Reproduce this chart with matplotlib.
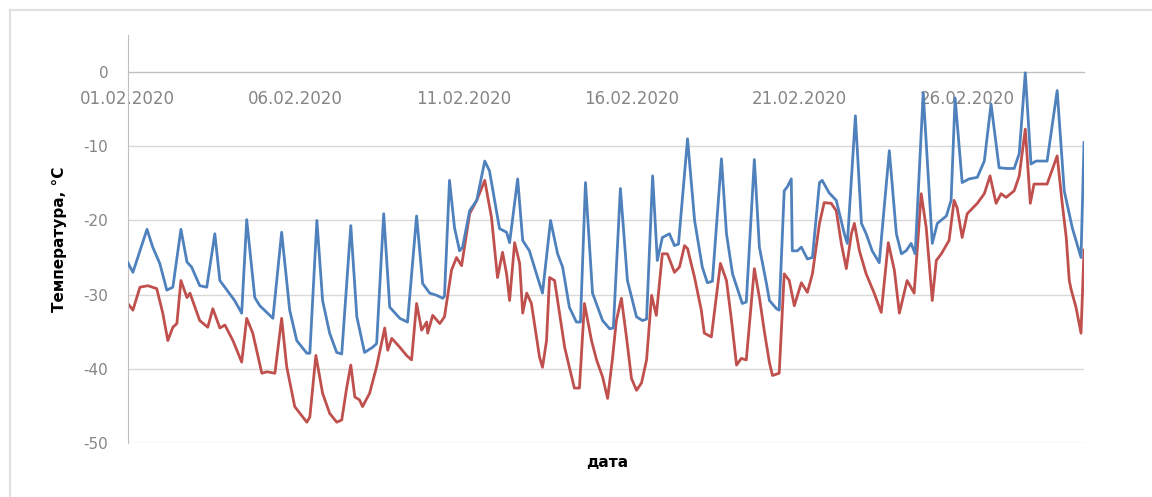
import matplotlib
matplotlib.use("Agg")
import matplotlib.pyplot as plt
import matplotlib.dates as mdates
import pandas as pd

# days since 01.02.2020 00:00 and temperature, degC
blue_days = [0, 0.15, 0.36, 0.57, 0.74, 0.95, 1.16, 1.34, 1.58, 1.76, 1.90, 2.14, 2.35,
             2.59, 2.74, 2.95, 3.18, 3.39, 3.54, 3.78, 3.93, 4.32, 4.58, 4.82, 5.03, 5.33,
             5.42, 5.63, 5.80, 6.01, 6.22, 6.37, 6.64, 6.82, 7.05, 7.29, 7.41, 7.62, 7.80,
             8.10, 8.33, 8.60, 8.78, 8.99, 9.20, 9.38, 9.43, 9.58, 9.73, 9.88, 9.97, 10.18,
             10.39, 10.63, 10.77, 11.07, 11.28, 11.37, 11.61, 11.76, 11.96, 12.17, 12.35,
             12.59, 12.80, 12.95, 13.15, 13.36, 13.48, 13.63, 13.84, 14.14, 14.35, 14.46,
             14.67, 14.88, 15.15, 15.33, 15.45, 15.63, 15.77, 15.92, 16.13, 16.28, 16.40,
             16.67, 16.88, 17.11, 17.26, 17.41, 17.68, 17.83, 18.01, 18.30, 18.42, 18.66,
             18.81, 19.02, 19.11, 19.32, 19.40, 19.55, 19.64, 19.76, 19.79, 19.94, 20.06,
             20.24, 20.39, 20.60, 20.68, 20.89, 21.10, 21.34, 21.43, 21.67, 21.85, 21.99,
             22.17, 22.38, 22.68, 22.89, 23.04, 23.18, 23.33, 23.45, 23.69, 23.96, 24.11,
             24.38, 24.52, 24.64, 24.85, 25.06, 25.30, 25.51, 25.71, 25.95, 26.19, 26.40,
             26.55, 26.73, 26.90, 27.05, 27.38, 27.68, 27.89, 28.13, 28.39, 28.48]
blue_temp = [-25.7, -27.0, -24.1, -21.2, -23.6, -25.8, -29.4, -29.0, -21.2, -25.6, -26.3, -28.8, -29.0,
             -21.8, -28.1, -29.4, -30.8, -32.5, -19.9, -30.4, -31.5, -33.2, -21.6, -32.1, -36.2, -37.9,
             -37.9, -20.0, -30.8, -35.2, -37.8, -38.0, -20.7, -33.0, -37.8, -37.1, -36.6, -19.1, -31.7,
             -33.2, -33.7, -19.4, -28.5, -29.8, -30.1, -30.5, -30.2, -14.6, -21.0, -24.1, -23.6, -18.7,
             -17.3, -12.0, -13.3, -21.1, -21.6, -23.0, -14.4, -22.7, -24.1, -27.2, -29.8,
             -20.0, -24.5, -26.3, -31.7, -33.7, -33.7, -14.9, -29.8, -33.5, -34.6, -34.5,
             -15.7, -28.1, -33.0, -33.5, -33.3, -14.0, -25.4, -22.3, -21.8, -23.4, -23.2,
             -9.0, -20.0, -26.3, -28.4, -28.2, -11.7, -21.8, -27.2, -31.2, -31.0, -11.8,
             -23.6, -28.5, -30.8, -31.9, -32.1, -16.0, -15.5, -14.4, -24.1, -24.1, -23.6,
             -25.2, -25.0, -14.9, -14.6, -16.3, -17.3, -21.8, -23.1, -5.9, -20.4, -21.8,
             -24.1, -25.7, -10.6, -21.8, -24.5, -24.1, -23.1, -24.5, -2.8, -23.1, -20.4,
             -19.4, -17.3, -3.5, -14.9, -14.4, -14.2, -12.0, -4.3, -12.9, -13.0, -13.0,
             -11.0, -0.1, -12.4, -12.0, -12.0, -2.5, -16.0, -21.0, -25.0, -9.5]

red_days = [0, 0.15, 0.36, 0.60, 0.86, 1.04, 1.19, 1.34, 1.46, 1.58, 1.76, 1.85, 2.14, 2.38,
            2.53, 2.74, 2.89, 3.13, 3.39, 3.54, 3.72, 3.99, 4.14, 4.38, 4.58, 4.73, 4.97,
            5.33, 5.42, 5.60, 5.80, 6.01, 6.22, 6.37, 6.52, 6.64, 6.76, 6.90, 6.99, 7.20,
            7.41, 7.65, 7.74, 7.86, 8.10, 8.30, 8.45, 8.60, 8.75, 8.90, 8.93, 9.08, 9.29,
            9.43, 9.64, 9.79, 9.94, 10.18, 10.39, 10.63, 10.83, 11.01, 11.16, 11.28, 11.37,
            11.52, 11.67, 11.76, 11.88, 12.02, 12.26, 12.35, 12.47, 12.56, 12.71, 13.01,
            13.15, 13.30, 13.45, 13.60, 13.81, 13.96, 14.14, 14.29, 14.43, 14.55, 14.70,
            14.85, 15.00, 15.15, 15.30, 15.45, 15.60, 15.74, 15.92, 16.07, 16.28, 16.43,
            16.58, 16.67, 16.88, 17.08, 17.17, 17.38, 17.65, 17.83, 17.98, 18.13, 18.27,
            18.42, 18.66, 18.81, 18.96, 19.11, 19.20, 19.40, 19.55, 19.70, 19.85, 20.06,
            20.24, 20.39, 20.60, 20.74, 20.95, 21.10, 21.25, 21.40, 21.55, 21.64, 21.79,
            21.99, 22.23, 22.44, 22.65, 22.83, 22.98, 23.07, 23.21, 23.42, 23.63, 23.78,
            23.96, 24.08, 24.23, 24.46, 24.61, 24.70, 24.85, 25.00, 25.30, 25.51, 25.68,
            25.86, 26.01, 26.16, 26.40, 26.55, 26.73, 26.88, 26.99, 27.38, 27.68, 27.83,
            27.95, 28.04, 28.10, 28.24, 28.39, 28.48]
red_temp = [-31.2, -32.1, -29.0, -28.8, -29.2, -32.5, -36.2, -34.4, -33.9, -28.1, -30.4, -29.8, -33.5, -34.4,
            -31.9, -34.5, -34.1, -36.2, -39.1, -33.2, -35.2, -40.6, -40.4, -40.6, -33.2, -39.7, -45.1,
            -47.2, -46.5, -38.2, -43.3, -46.0, -47.2, -46.9, -42.5, -39.5, -43.8, -44.2, -45.1, -43.3,
            -39.7, -34.5, -37.5, -35.9, -37.1, -38.2, -38.8, -31.2, -34.8, -33.7, -35.2, -32.8, -33.9,
            -33.0, -26.7, -25.0, -26.1, -19.1, -17.3, -14.6, -19.6, -27.7, -24.3, -27.2, -30.8,
            -23.0, -25.8, -32.5, -29.8, -31.2, -38.4, -39.8, -36.2, -27.7, -28.1, -37.1,
            -39.8, -42.6, -42.6, -31.2, -36.2, -38.8, -41.1, -44.0, -38.8, -33.5, -30.5,
            -35.7, -41.3, -42.9, -41.9, -38.8, -30.1, -32.8, -24.5, -24.5, -27.0, -26.3,
            -23.4, -23.8, -27.7, -32.1, -35.2, -35.7, -25.8, -28.1, -33.5, -39.5, -38.6,
            -38.8, -26.5, -30.4, -35.0, -39.2, -40.9, -40.6, -27.2, -28.1, -31.5, -28.4,
            -29.7, -27.2, -20.4, -17.6, -17.7, -18.7, -23.1, -26.5, -21.8, -20.4, -24.1,
            -27.2, -29.8, -32.4, -23.0, -26.7, -32.5, -30.8, -28.1, -29.8, -16.4, -21.0,
            -30.8, -25.4, -24.5, -22.7, -17.3, -18.3, -22.3, -19.1, -17.7, -16.4, -14.0,
            -17.7, -16.4, -16.9, -16.0, -14.0, -7.7, -17.7, -15.1, -15.1, -11.3, -17.7,
            -22.3, -28.1, -29.4, -31.7, -35.2, -24.0]

start = pd.Timestamp("2020-02-01")
blue_t = start + pd.to_timedelta(blue_days, unit="D")
red_t = start + pd.to_timedelta(red_days, unit="D")

plt.rcParams['axes.unicode_minus'] = False
fig = plt.figure(figsize=(11.52, 4.97), dpi=100)
ax = fig.add_axes([0.111, 0.1087, 0.830, 0.821])

ax.plot(blue_t, blue_temp, color="#4F81BD", lw=2.0, zorder=3)
ax.plot(red_t, red_temp, color="#C0504D", lw=2.0, zorder=2)

ax.set_ylim(-50, 5)
ax.set_yticks([-50, -40, -30, -20, -10, 0])
ax.set_xlim(blue_t[0], blue_t[-1])
ax.grid(axis="y", color="#D9D9D9", lw=1)
ax.set_axisbelow(True)

ax.xaxis.set_major_locator(mdates.DayLocator(bymonthday=[1, 6, 11, 16, 21, 26]))
ax.xaxis.set_major_formatter(mdates.DateFormatter("%d.%m.%Y"))

ax.spines['top'].set_visible(False)
ax.spines['right'].set_visible(False)
ax.spines['bottom'].set_position(('data', 0))
ax.spines['bottom'].set_color("#BFBFBF")
ax.spines['left'].set_color("#BFBFBF")
ax.tick_params(axis="x", length=0, pad=13, labelsize=12, labelcolor="#858585")
ax.tick_params(axis="y", length=0, pad=14, labelsize=11, labelcolor="#858585")

ax.set_ylabel("Температура, °C", fontsize=11, fontweight="bold", labelpad=12)
fig.text(0.527, 0.07, "дата", fontsize=11, fontweight="bold", ha="center", va="center")

# thin frame of the chart area
fig.add_artist(plt.Line2D([0.009, 0.009], [0.0, 0.98], color="#E0E0E0", lw=1.5))
fig.add_artist(plt.Line2D([0.009, 1.0], [0.98, 0.98], color="#E0E0E0", lw=1.5))

fig.savefig("out.png", dpi=100)
